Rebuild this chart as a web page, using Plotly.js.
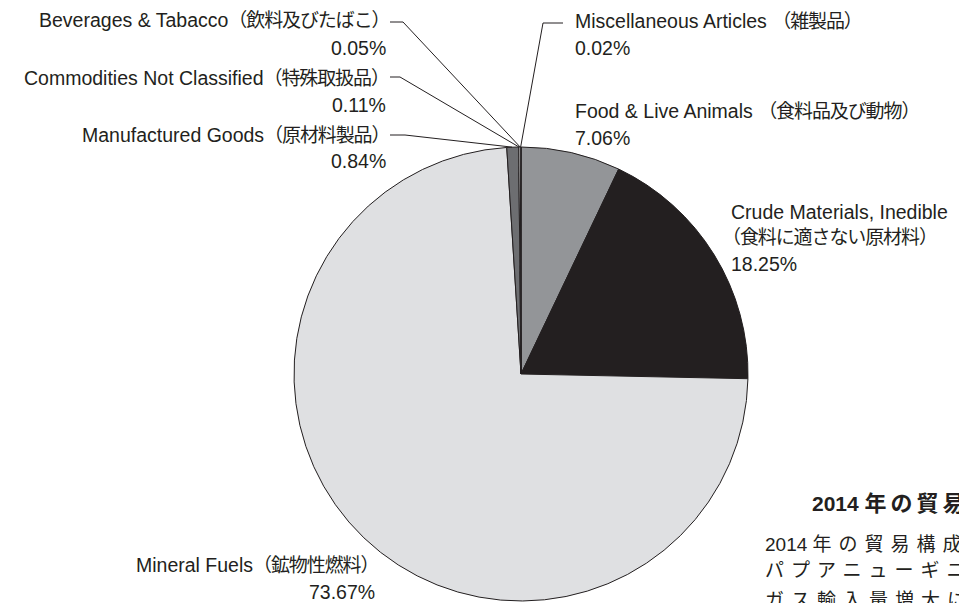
<!DOCTYPE html>
<html><head><meta charset="utf-8">
<script src="https://cdn.plot.ly/plotly-3.0.1.min.js"></script>
<style>html,body{margin:0;padding:0;background:#fff;}</style>
</head><body><div id="chart" style="width:959px;height:603px;"></div>
<script>
// ---- data ----
const categoriesEn = ['Miscellaneous Articles', 'Food & Live Animals', 'Crude Materials, Inedible', 'Mineral Fuels', 'Manufactured Goods', 'Commodities Not Classified', 'Beverages & Tabacco'];
const categoriesJa = ['雑製品', '食料品及び動物', '食料に適さない原材料', '鉱物性燃料', '原材料製品', '特殊取扱品', '飲料及びたばこ'];
const shares = [0.02, 7.06, 18.25, 73.67, 0.84, 0.11, 0.05];
const noteTitleLead = '2014';
const noteTitle = '年の貿易';
const noteLead = ['2014 ', '', ''];
const noteBody = ['年の貿易構成', 'パプアニューギニア', 'ガス輸入量増大によ'];

// ---- style / layout ----
const W = 959, H = 603;
const CX = 521, CY = 374, R = 227;
const INK = '#231f20';
const FONT = 'Liberation Sans, Arial, Noto Sans CJK JP, sans-serif';
const LATIN_SIZE = 19.5;
const sliceColors = ['#ffffff', '#939598', '#231f20', '#dfe0e2', '#6d6e71', '#ffffff', '#ffffff'];
const px = v => v / W;
const py = v => 1 - v / H;
const cjk = t => '<span style="font-size:19px;letter-spacing:-1.1px">' + t + '</span>';

// label placement per category (same order as data)
const labelPos = [
  {x: 573, ys: [21, 48], anchor: 'left', sep: ' ', leader: {pts: [[563, 23], [543, 23]]}},
  {x: 573, ys: [111, 138], anchor: 'left', sep: ' '},
  {x: 729, ys: [212, 237, 264], anchor: 'left', split: true},
  {x: 380, ys: [565, 592], anchor: 'right', sep: ''},
  {x: 391, ys: [135, 161], anchor: 'right', sep: '', leader: {pts: [[390, 135], [405, 135]]}},
  {x: 391, ys: [78, 105], anchor: 'right', sep: '', leader: {pts: [[390, 77], [400, 77]]}},
  {x: 391, ys: [20, 48], anchor: 'right', sep: '', leader: {pts: [[390, 22], [403, 22]]}}
];

const total = shares.reduce((a, b) => a + b, 0);
const annotations = [];
const shapes = [];
let cum = 0;
shares.forEach((v, i) => {
  const mid = (cum + v / 2) / total;
  cum += v;
  const lp = labelPos[i];
  const pct = v.toFixed(2) + '%';
  let lines;
  if (lp.split) lines = [categoriesEn[i], cjk('（' + categoriesJa[i] + '）'), pct];
  else lines = [categoriesEn[i] + lp.sep + cjk('（' + categoriesJa[i] + '）'), pct];
  lines.forEach((t, k) => {
    let x = lp.x;
    if (lp.split && k === 1) x = lp.x - 9;
    if (lp.anchor === 'right' && k === lines.length - 1) x = lp.x - 3;
    annotations.push({
      xref: 'paper', yref: 'paper', x: px(x), y: py(lp.ys[k]),
      xanchor: lp.anchor, yanchor: 'middle', align: lp.anchor,
      showarrow: false, text: t, font: {family: FONT, size: LATIN_SIZE, color: INK}
    });
  });
  if (lp.leader) {
    const ang = mid * 2 * Math.PI;
    const ex = CX + R * Math.sin(ang) - 0.5;
    const ey = CY - R * Math.cos(ang);
    const p = lp.leader.pts;
    const path = 'M' + px(p[0][0]) + ',' + py(p[0][1]) + ' L' + px(p[1][0]) + ',' + py(p[1][1]) + ' L' + px(ex) + ',' + py(ey);
    shapes.push({type: 'path', xref: 'paper', yref: 'paper', path: path, line: {color: INK, width: 1}});
  }
});

// note text block (bottom right)
annotations.push({
  xref: 'paper', yref: 'paper', x: px(810), y: py(503), xanchor: 'left', yanchor: 'middle',
  showarrow: false, text: '<b>' + noteTitleLead + ' <span style="font-size:22px;letter-spacing:4px">' + noteTitle + '</span></b>',
  font: {family: FONT, size: 21, color: INK}
});
const noteYs = [544, 570, 600];
noteBody.forEach((t, k) => {
  annotations.push({
    xref: 'paper', yref: 'paper', x: px(763), y: py(noteYs[k]), xanchor: 'left', yanchor: 'middle',
    showarrow: false, text: noteLead[k] + '<span style="letter-spacing:7px">' + t + '</span>',
    font: {family: FONT, size: 19, color: INK}
  });
});

const trace = {
  type: 'pie', values: shares, labels: categoriesEn, sort: false, direction: 'clockwise', rotation: 0,
  textinfo: 'none', hoverinfo: 'none', showlegend: false,
  marker: {colors: sliceColors, line: {color: INK, width: 1}},
  domain: {x: [px(CX - R), px(CX + R)], y: [py(CY + R), py(CY - R)]}
};

Plotly.newPlot('chart', [trace], {
  width: W, height: H, margin: {l: 0, r: 0, t: 0, b: 0},
  paper_bgcolor: '#ffffff', plot_bgcolor: '#ffffff',
  annotations: annotations, shapes: shapes
}, {staticPlot: true});
</script></body></html>
